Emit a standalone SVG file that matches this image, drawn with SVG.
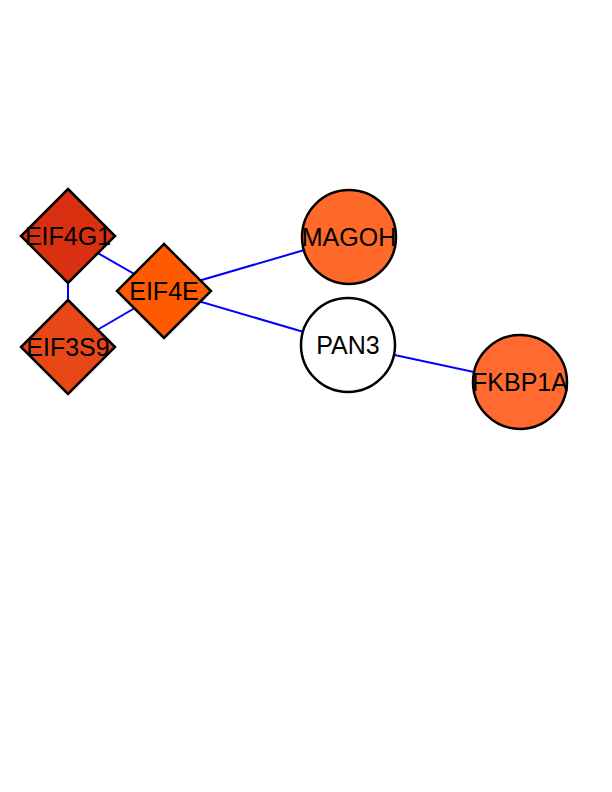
<svg xmlns="http://www.w3.org/2000/svg" width="612" height="792" viewBox="0 0 612 792">
<style>
.edge{stroke:#0000ff;stroke-width:2;fill:none}
.node{stroke:#000;stroke-width:2.5}
.lbl{font-family:"Liberation Sans",Arial,sans-serif;font-size:25px;fill:#000;text-anchor:middle;dominant-baseline:central}
</style>
<rect width="612" height="792" fill="#fff"/>
<g id="connectors">
<line class="edge" x1="68" y1="236" x2="68" y2="347"/>
<line class="edge" x1="68" y1="236" x2="164" y2="291"/>
<line class="edge" x1="68" y1="347" x2="164" y2="291"/>
<line class="edge" x1="164" y1="291" x2="349" y2="237"/>
<line class="edge" x1="164" y1="291" x2="348" y2="345"/>
<line class="edge" x1="348" y1="345" x2="520" y2="382"/>
</g>
<g id="EIF4G1"><polygon class="node" fill="#d83010" points="68,189 115,236 68,283 21,236"/><text class="lbl" x="68" y="236">EIF4G1</text></g>
<g id="EIF3S9"><polygon class="node" fill="#e84818" points="68,300 115,347 68,394 21,347"/><text class="lbl" x="68" y="347">EIF3S9</text></g>
<g id="EIF4E"><polygon class="node" fill="#ff5a00" points="164,244 211,291 164,338 117,291"/><text class="lbl" x="164" y="291">EIF4E</text></g>
<g id="MAGOH"><circle class="node" fill="#ff6a2a" cx="349" cy="237" r="47"/><text class="lbl" x="349" y="237">MAGOH</text></g>
<g id="PAN3"><circle class="node" fill="#fff" cx="348" cy="345" r="47"/><text class="lbl" x="348" y="345">PAN3</text></g>
<g id="FKBP1A"><circle class="node" fill="#ff6a30" cx="520" cy="382" r="47"/><text class="lbl" x="520" y="382">FKBP1A</text></g>
</svg>
